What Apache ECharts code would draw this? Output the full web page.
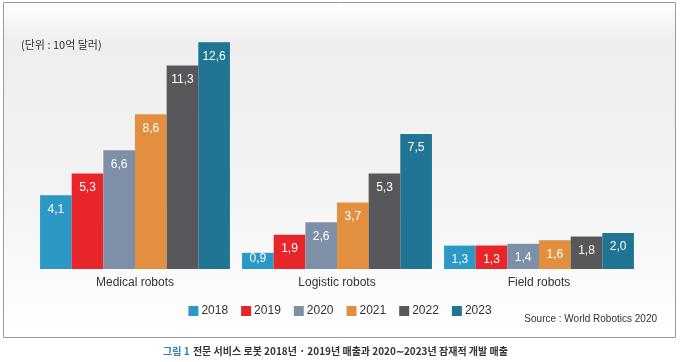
<!DOCTYPE html>
<html>
<head>
<meta charset="utf-8">
<script src="https://cdn.jsdelivr.net/npm/echarts@6/dist/echarts.min.js"></script>
<style>
html,body{margin:0;padding:0;background:#fff;}
#c{width:680px;height:362px;}
</style>
</head>
<body>
<div id="c"></div>
<script>
var categories = ['Medical robots', 'Logistic robots', 'Field robots'];
var years = ['2018', '2019', '2020', '2021', '2022', '2023'];
var v2018 = [4.1, 0.9, 1.3];
var v2019 = [5.3, 1.9, 1.3];
var v2020 = [6.6, 2.6, 1.4];
var v2021 = [8.6, 3.7, 1.6];
var v2022 = [11.3, 5.3, 1.8];
var v2023 = [12.6, 7.5, 2.0];
var seriesValues = [v2018, v2019, v2020, v2021, v2022, v2023];
var colors = ['#2b98c6', '#e8252b', '#7e90a8', '#e29040', '#58585b', '#1f7593'];

var chart = echarts.init(document.getElementById('c'), null, {renderer: 'canvas'});
var series = years.map(function (y, i) {
  return {
    name: y,
    type: 'bar',
    data: seriesValues[i].map(function (v) {
      var d = {value: v};
      if (v < 1.2) d.label = {position: 'inside', offset: [0, -2]};
      return d;
    }),
    barGap: '0%',
    barCategoryGap: '6%',
    itemStyle: {color: colors[i]},
    label: {
      show: true,
      position: 'insideTop',
      distance: 8,
      color: '#ffffff',
      fontSize: 12,
      fontFamily: 'Liberation Sans, Arial, sans-serif',
      formatter: function (p) { return p.value.toFixed(1).replace('.', ','); }
    }
  };
});

chart.setOption({
  animation: false,
  backgroundColor: '#ffffff',
  graphic: [
    {type: 'rect', z: -10, silent: true, shape: {x: 3.5, y: 2.5, width: 672, height: 335},
     style: {fill: new echarts.graphic.LinearGradient(0, 0, 0, 1, [
       {offset: 0, color: '#ffffff'}, {offset: 0.12, color: '#eeeeee'}, {offset: 0.55, color: '#f3f3f3'}, {offset: 0.8, color: '#fafafa'}, {offset: 1, color: '#ffffff'}]),
       stroke: '#9a9a9a', lineWidth: 1}},
    {type: 'text', left: 21, top: 39, style: {text: '(단위 : 10억 달러)', fontSize: 11, fill: '#333333', fontFamily: 'Noto Sans CJK KR'}},
    {type: 'text', right: 23, top: 314, style: {text: 'Source : World Robotics 2020', fontSize: 10, fill: '#333333', fontFamily: 'Liberation Sans, Arial'}},
    {type: 'text', left: 163, top: 345, style: {rich: {
      a: {fontSize: 10, fontWeight: 'bold', fill: '#2a80c2', fontFamily: 'Noto Sans CJK KR'},
      b: {fontSize: 10, fontWeight: 'bold', fill: '#333333', fontFamily: 'Noto Sans CJK KR'}
    }, text: '{a|그림 1} {b|전문 서비스 로봇 2018년 · 2019년 매출과 2020∼2023년 잠재적 개발 매출}'}}
  ],
  legend: {
    data: years,
    top: 300,
    left: 'center',
    itemWidth: 10,
    itemHeight: 10,
    itemGap: 13,
    icon: 'rect',
    textStyle: {fontSize: 12, color: '#333', fontFamily: 'Liberation Sans, Arial', padding: [0, 0, 0, -2]}
  },
  grid: {left: 34, right: 40, top: 17, bottom: 93},
  xAxis: {
    type: 'category',
    data: categories,
    axisLine: {show: false},
    axisTick: {show: false},
    axisLabel: {fontSize: 12, color: '#333', margin: 8, fontFamily: 'Liberation Sans, Arial'}
  },
  yAxis: {type: 'value', min: 0, max: 14, show: false, splitLine: {show: false}},
  color: colors,
  series: series
});
</script>
</body>
</html>
